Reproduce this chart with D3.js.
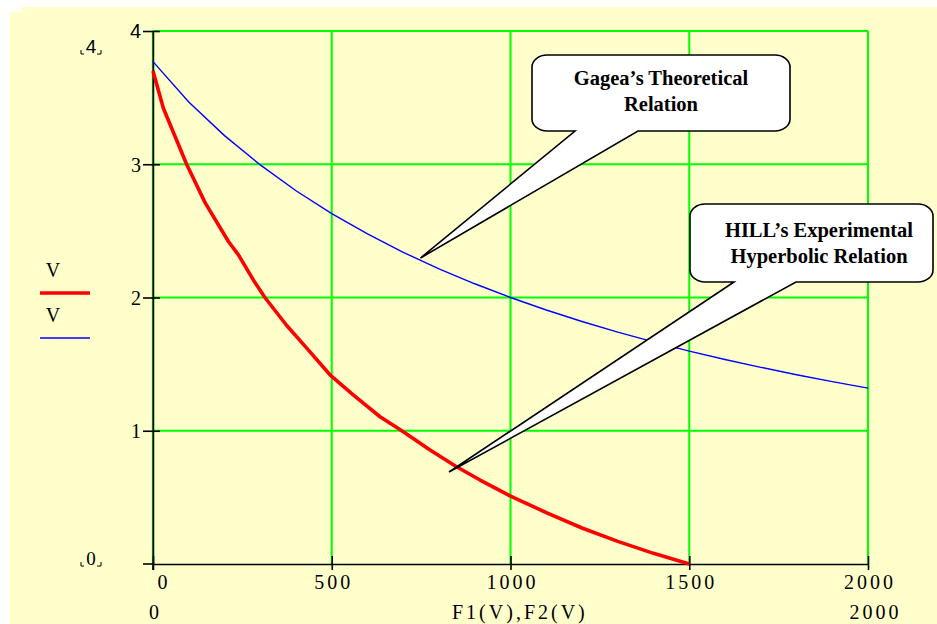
<!DOCTYPE html>
<html><head><meta charset="utf-8">
<script src="https://cdn.jsdelivr.net/npm/d3@7/dist/d3.min.js"></script>
<style>html,body{margin:0;padding:0;background:#fff;}svg{display:block;}</style>
</head><body>
<svg id="c" width="937" height="624"></svg>
<script>
// ---- data ----
const forceGagea = [0,100,200,300,400,500,600,700,800,900,1000,1100,1200,1300,1400,1500,1600,1700,1800,1900,2000];
const velGagea   = [3.77,3.467,3.215,2.995,2.801,2.630,2.477,2.339,2.215,2.103,2.000,1.906,1.820,1.740,1.667,1.598,1.535,1.476,1.420,1.369,1.320];
const forceHill  = [0,29,94,146,211,239,281,313,374,430,495,560,635,696,775,849,915,1000,1100,1200,1300,1400,1500];
const velHill    = [3.70,3.42,3.00,2.71,2.42,2.32,2.13,2.00,1.79,1.62,1.42,1.27,1.105,1.00,0.856,0.73,0.63,0.51,0.386,0.27,0.17,0.08,0];
const xTicks = [0,500,1000,1500,2000];
const yTicks = [1,2,3,4];
const xTickLabels = ["0","500","1000","1500","2000"];
const yTickLabels = ["1","2","3","4"];
const legendLabels = ["V","V"];
const axisTitle = "F1(V),F2(V)";
const callouts = [
  {lines:["Gagea\u2019s Theoretical","Relation"]},
  {lines:["HILL\u2019s Experimental","Hyperbolic Relation"]}
];

const svg = d3.select("#c");
const serif = "'Liberation Serif','Times New Roman',serif";
const sans = "'Liberation Sans',Arial,sans-serif";

// background
svg.append("path").attr("d","M10,12 H20 V7 H937 V624 H10 Z").attr("fill","#FFFFCC");

const x = d3.scaleLinear().domain([0,2000]).range([153,868]);
const y = d3.scaleLinear().domain([0,4]).range([564,31]);

// grid
const g = svg.append("g");
g.selectAll(".vg").data(xTicks.filter(d=>d>0)).join("line")
  .attr("x1",d=>x(d)).attr("x2",d=>x(d)).attr("y1",y(0)).attr("y2",y(4))
  .attr("stroke","#00FF00").attr("stroke-width",2);
g.selectAll(".hg").data(yTicks).join("line")
  .attr("x1",x(0)).attr("x2",x(2000)).attr("y1",d=>y(d)).attr("y2",d=>y(d))
  .attr("stroke","#00FF00").attr("stroke-width",2);
// green under left axis
g.append("line").attr("x1",x(0)).attr("x2",x(0)).attr("y1",y(0)).attr("y2",y(4))
  .attr("stroke","#00A000").attr("stroke-width",2.2);

// axes
const ax = svg.append("g").attr("transform",`translate(0,${y(0)})`)
  .call(d3.axisBottom(x).tickValues(xTicks).tickSizeOuter(0).tickFormat((d,i)=>xTickLabels[i]));
ax.select(".domain").attr("stroke","#000").attr("stroke-width",1.6);
ax.selectAll(".tick line").attr("y1",-8).attr("y2",6).attr("stroke","#000").attr("stroke-width",1.6);
ax.selectAll(".tick text").attr("y",25).attr("dy",0).attr("font-family",serif).attr("font-size",20)
  .attr("letter-spacing","3px").attr("dx",(d,i)=> i===0 ? 10.5 : 1.5).attr("fill","#000");

const ay = svg.append("g").attr("transform",`translate(${x(0)},0)`)
  .call(d3.axisLeft(y).tickValues(yTicks).tickSizeOuter(0).tickFormat((d,i)=>yTickLabels[i]));
ay.select(".domain").attr("stroke","#000").attr("stroke-width",1.4);
ay.selectAll(".tick line").attr("x1",-10).attr("x2",7).attr("stroke","#000").attr("stroke-width",1.6);
ay.selectAll(".tick text").attr("x",-12).attr("dy","0.34em").attr("font-family",(d)=> d===4?sans:serif)
  .attr("font-size",20).attr("fill","#000");
// y extends a bit below zero at bottom-left
svg.append("line").attr("x1",x(0)-10).attr("x2",x(0)).attr("y1",y(0)).attr("y2",y(0)).attr("stroke","#000").attr("stroke-width",1.6);
svg.append("line").attr("x1",x(0)).attr("x2",x(0)).attr("y1",y(0)).attr("y2",y(0)+6).attr("stroke","#000").attr("stroke-width",1.6);

// second row labels
svg.append("text").attr("x",x(0)+1).attr("y",619).attr("text-anchor","middle")
  .attr("font-family",serif).attr("font-size",20).text(xTickLabels[0]);
svg.append("text").attr("x",452).attr("y",619).attr("text-anchor","start")
  .attr("font-family",serif).attr("font-size",20).attr("letter-spacing","3px").text(axisTitle);
svg.append("text").attr("x",x(2000)+7.5).attr("y",619).attr("text-anchor","middle")
  .attr("font-family",serif).attr("font-size",20).attr("letter-spacing","3px").text(xTickLabels[4]);

// range markers at left
function marker(label, yb, fam){
  svg.append("text").attr("x",91).attr("y",yb).attr("text-anchor","middle")
    .attr("font-family",fam).attr("font-size",19).text(label);
  svg.append("path").attr("d",`M81,${yb-3} V${yb+1} H84`).attr("fill","none").attr("stroke","#000").attr("stroke-width",1);
  svg.append("path").attr("d",`M97,${yb+1} H101 V${yb-3}`).attr("fill","none").attr("stroke","#000").attr("stroke-width",1);
}
marker(yTickLabels[3],53,sans);
marker(xTickLabels[0],565,serif);

// legend
const legColors = ["#FF0000","#0000FF"], legW=[3.5,1.5], legY=[277,322];
legendLabels.forEach((t,i)=>{
  svg.append("text").attr("x",53).attr("y",legY[i]).attr("text-anchor","middle")
    .attr("font-family",serif).attr("font-size",20).text(t);
  svg.append("line").attr("x1",40).attr("x2",90).attr("y1",legY[i]+16).attr("y2",legY[i]+16)
    .attr("stroke",legColors[i]).attr("stroke-width",legW[i]);
});

// curves
const line = d3.line().x(d=>x(d[0])).y(d=>y(d[1]));
svg.append("path").datum(forceGagea.map((f,i)=>[f,velGagea[i]]))
  .attr("d",line).attr("fill","none").attr("stroke","#0000FF").attr("stroke-width",1.4);
svg.append("path").datum(forceHill.map((f,i)=>[f,velHill[i]]))
  .attr("d",line).attr("fill","none").attr("stroke","#FF0000").attr("stroke-width",3.6)
  .attr("stroke-linejoin","round");

// callouts
function callout(b, txt, tx){
  const {x0,y0,x1,y1,bx1,bx2,px,py} = b, rx=15, ry=12;
  const d = `M${x0+rx},${y0} H${x1-rx} A${rx},${ry} 0 0 1 ${x1},${y0+ry} V${y1-ry} A${rx},${ry} 0 0 1 ${x1-rx},${y1}`+
            ` H${bx2} L${px},${py} L${bx1},${y1} H${x0+rx} A${rx},${ry} 0 0 1 ${x0},${y1-ry} V${y0+ry} A${rx},${ry} 0 0 1 ${x0+rx},${y0} Z`;
  svg.append("path").attr("d",d).attr("fill","#fff").attr("stroke","#000").attr("stroke-width",1.6).attr("stroke-linejoin","miter");
  txt.forEach((t,i)=>{
    svg.append("text").attr("x",tx).attr("y",b.tb+i*26).attr("text-anchor","middle")
      .attr("font-family",serif).attr("font-weight","bold").attr("font-size",20.5).text(t);
  });
}
callout({x0:532,y0:55,x1:790,y1:131,bx1:575,bx2:638,px:420.5,py:258,tb:85}, callouts[0].lines, 661);
callout({x0:690,y0:204,x1:933,y1:282,bx1:734,bx2:796,px:449,py:472,tb:237}, callouts[1].lines, 819);
</script>
</body></html>
